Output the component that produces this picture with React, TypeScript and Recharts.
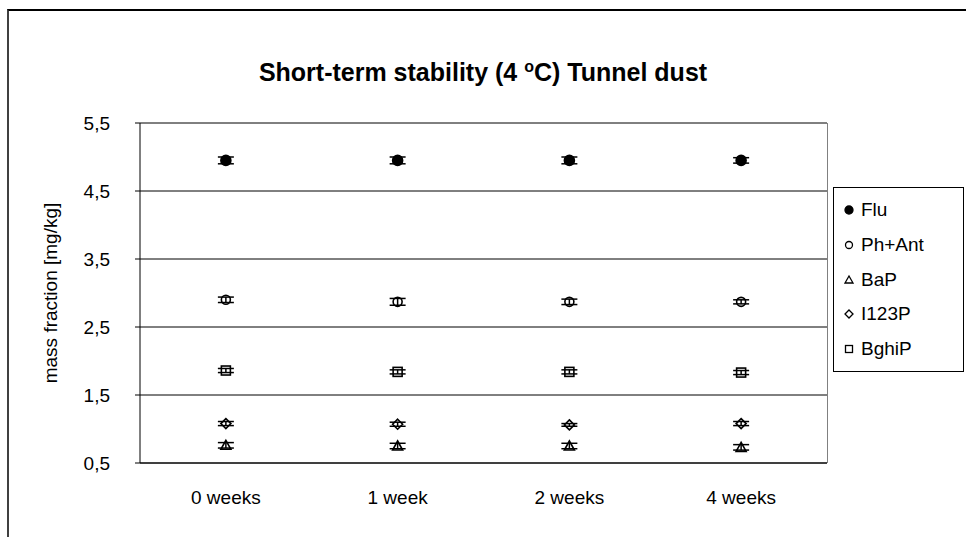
import React from "react";
import {
  ComposedChart,
  Line,
  XAxis,
  YAxis,
  CartesianGrid,
  ErrorBar,
} from "recharts";

const weeks = ["0 weeks", "1 week", "2 weeks", "4 weeks"];
const flu = [4.95, 4.95, 4.95, 4.95];
const phAnt = [2.9, 2.87, 2.87, 2.87];
const bap = [0.76, 0.75, 0.75, 0.73];
const i123p = [1.08, 1.07, 1.06, 1.08];
const bghip = [1.86, 1.84, 1.84, 1.83];
const fluErr = [0.05, 0.05, 0.05, 0.04];
const phAntErr = [0.04, 0.05, 0.04, 0.03];
const bapErr = [0.04, 0.04, 0.04, 0.04];
const i123pErr = [0.03, 0.03, 0.02, 0.03];
const bghipErr = [0.03, 0.03, 0.03, 0.03];
const yTicks = [0.5, 1.5, 2.5, 3.5, 4.5, 5.5];

const seriesNames = ["Flu", "Ph+Ant", "BaP", "I123P", "BghiP"];
const seriesKeys = ["flu", "phAnt", "bap", "i123p", "bghip"];

const data = weeks.map((w, i) => ({
  week: w,
  flu: flu[i],
  phAnt: phAnt[i],
  bap: bap[i],
  i123p: i123p[i],
  bghip: bghip[i],
  fluErr: fluErr[i],
  phAntErr: phAntErr[i],
  bapErr: bapErr[i],
  i123pErr: i123pErr[i],
  bghipErr: bghipErr[i],
}));

const FONT = "'Liberation Sans', Arial, sans-serif";

type Shape = "circleFilled" | "circle" | "triangle" | "diamond" | "square";
const shapes: Shape[] = ["circleFilled", "circle", "triangle", "diamond", "square"];

function Marker({ cx, cy, shape, r = 5, sw = 1.6 }: { cx: number; cy: number; shape: Shape; r?: number; sw?: number }) {
  if (cx == null || cy == null) return null;
  const common = { stroke: "#000", strokeWidth: sw };
  switch (shape) {
    case "circleFilled":
      return <circle cx={cx} cy={cy} r={r} fill="#000" {...common} />;
    case "circle":
      return <circle cx={cx} cy={cy} r={r - 0.5} fill="none" {...common} />;
    case "triangle":
      return (
        <polygon
          points={`${cx},${cy - r} ${cx + r},${cy + r - 1} ${cx - r},${cy + r - 1}`}
          fill="none"
          {...common}
        />
      );
    case "diamond":
      return (
        <polygon
          points={`${cx},${cy - r} ${cx + r},${cy} ${cx},${cy + r} ${cx - r},${cy}`}
          fill="none"
          {...common}
        />
      );
    default:
      return (
        <rect x={cx - r + 0.5} y={cy - r + 0.5} width={2 * r - 1} height={2 * r - 1} fill="none" {...common} />
      );
  }
}

function LegendBox() {
  return (
    <div
      style={{
        position: "absolute",
        left: 833,
        top: 187,
        width: 131,
        height: 185,
        boxSizing: "border-box",
        border: "1px solid #000",
        background: "#fff",
        paddingTop: 5,
        paddingLeft: 8,
        fontFamily: FONT,
        fontSize: 19,
        color: "#000",
      }}
    >
      {seriesNames.map((n, i) => (
        <div key={n} style={{ display: "flex", alignItems: "center", height: 34.7 }}>
          <svg width={14} height={14} style={{ marginRight: 5 }}>
            <Marker cx={7} cy={7} shape={shapes[i]} r={4} sw={1.3} />
          </svg>
          <span>{n}</span>
        </div>
      ))}
    </div>
  );
}

export default function App() {
  return (
    <div style={{ position: "absolute", left: 0, top: 0, width: 966, height: 537, background: "#fff", overflow: "hidden" }}>
      <div
        style={{
          position: "absolute",
          left: 7,
          top: 9,
          width: 980,
          height: 560,
          borderTop: "2px solid #000",
          borderLeft: "2px solid #404040",
        }}
      />
      <div
        style={{
          position: "absolute",
          left: 0,
          width: 966,
          top: 58,
          textAlign: "center",
          fontFamily: FONT,
          fontWeight: "bold",
          fontSize: 25,
          color: "#000",
        }}
      >
        Short-term stability (4 <sup style={{ fontSize: 16 }}>o</sup>C) Tunnel dust
      </div>
      <div style={{ position: "absolute", left: 0, top: 0 }}>
        <ComposedChart
          width={966}
          height={537}
          data={data}
          margin={{ top: 123, right: 139, bottom: 44, left: 40 }}
        >
          <CartesianGrid vertical={false} stroke="#000" strokeWidth={1} />
          <XAxis
            dataKey="week"
            scale="band"
            height={30}
            axisLine={{ stroke: "#000" }}
            tickLine={false}
            tickMargin={22}
            tick={{ fill: "#000", fontSize: 19, fontFamily: FONT }}
          />
          <YAxis
            type="number"
            domain={[0.5, 5.5]}
            ticks={yTicks}
            width={100}
            axisLine={{ stroke: "#000" }}
            tickLine={{ stroke: "#000" }}
            tickSize={5}
            tickMargin={25}
            tickFormatter={(v: number) => v.toFixed(1).replace(".", ",")}
            tick={{ fill: "#000", fontSize: 19, fontFamily: FONT }}
            label={{
              value: "mass fraction [mg/kg]",
              angle: -90,
              position: "insideLeft",
              offset: 10,
              style: { textAnchor: "middle", fill: "#000", fontSize: 19, fontFamily: FONT },
            }}
          />
          {seriesKeys.map((k, i) => (
            <Line
              key={k}
              dataKey={k}
              name={seriesNames[i]}
              stroke="none"
              isAnimationActive={false}
              activeDot={false}
              dot={(p: any) => <Marker key={`${k}-${p.index}`} cx={p.cx} cy={p.cy} shape={shapes[i]} />}
            >
              <ErrorBar dataKey={`${k}Err`} width={8} stroke="#000" strokeWidth={1.5} direction="y" />
            </Line>
          ))}
        </ComposedChart>
      </div>
      <div
        style={{
          position: "absolute",
          left: 140,
          top: 123,
          width: 687,
          height: 340,
          borderRight: "1px solid #808080",
          pointerEvents: "none",
        }}
      />
      <LegendBox />
    </div>
  );
}
